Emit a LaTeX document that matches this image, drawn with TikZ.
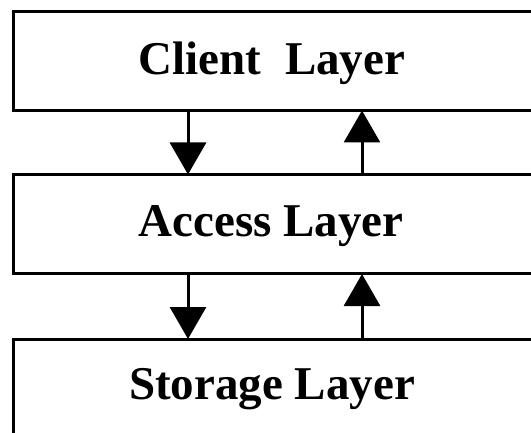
\documentclass[tikz,border=0pt]{standalone}
\usepackage{fontspec}
\setmainfont{Liberation Serif}
\usetikzlibrary{arrows.meta}
\begin{document}
\begin{tikzpicture}[x=1pt,y=1pt,
  layerbox/.style={draw=black, line width=3pt, outer sep=0pt, inner sep=0pt, fill=none, anchor=north west},
  layertext/.style={anchor=base, inner sep=0pt, font=\fontsize{47}{56}\selectfont\bfseries},
  flow/.style={line width=3pt, -{Triangle[width=36pt,length=32pt]}}
]
\clip (0,0) rectangle (531,432);
\fill[white] (0,0) rectangle (531,432);
\node[layerbox, minimum width=540pt, minimum height=98.5pt] (client) at (13.5,420) {};
\node[layerbox, minimum width=540pt, minimum height=99.5pt] (access) at (13.5,257.5) {};
\node[layerbox, minimum width=540pt, minimum height=110pt] (storage) at (13.5,93) {};
\node[layertext] (tclient) at (272,357) {Client\ \ Layer};
\node[layertext] (taccess) at (271,196) {Access Layer};
\node[layertext] (tstorage) at (272,33) {Storage Layer};
\draw[flow] ([xshift=174.5pt]client.south west) -- ([xshift=174.5pt]access.north west);
\draw[flow] ([xshift=348.5pt]access.north west) -- ([xshift=348.5pt]client.south west);
\draw[flow] ([xshift=174.5pt]access.south west) -- ([xshift=174.5pt]storage.north west);
\draw[flow] ([xshift=348.5pt]storage.north west) -- ([xshift=348.5pt]access.south west);
\end{tikzpicture}
\end{document}
